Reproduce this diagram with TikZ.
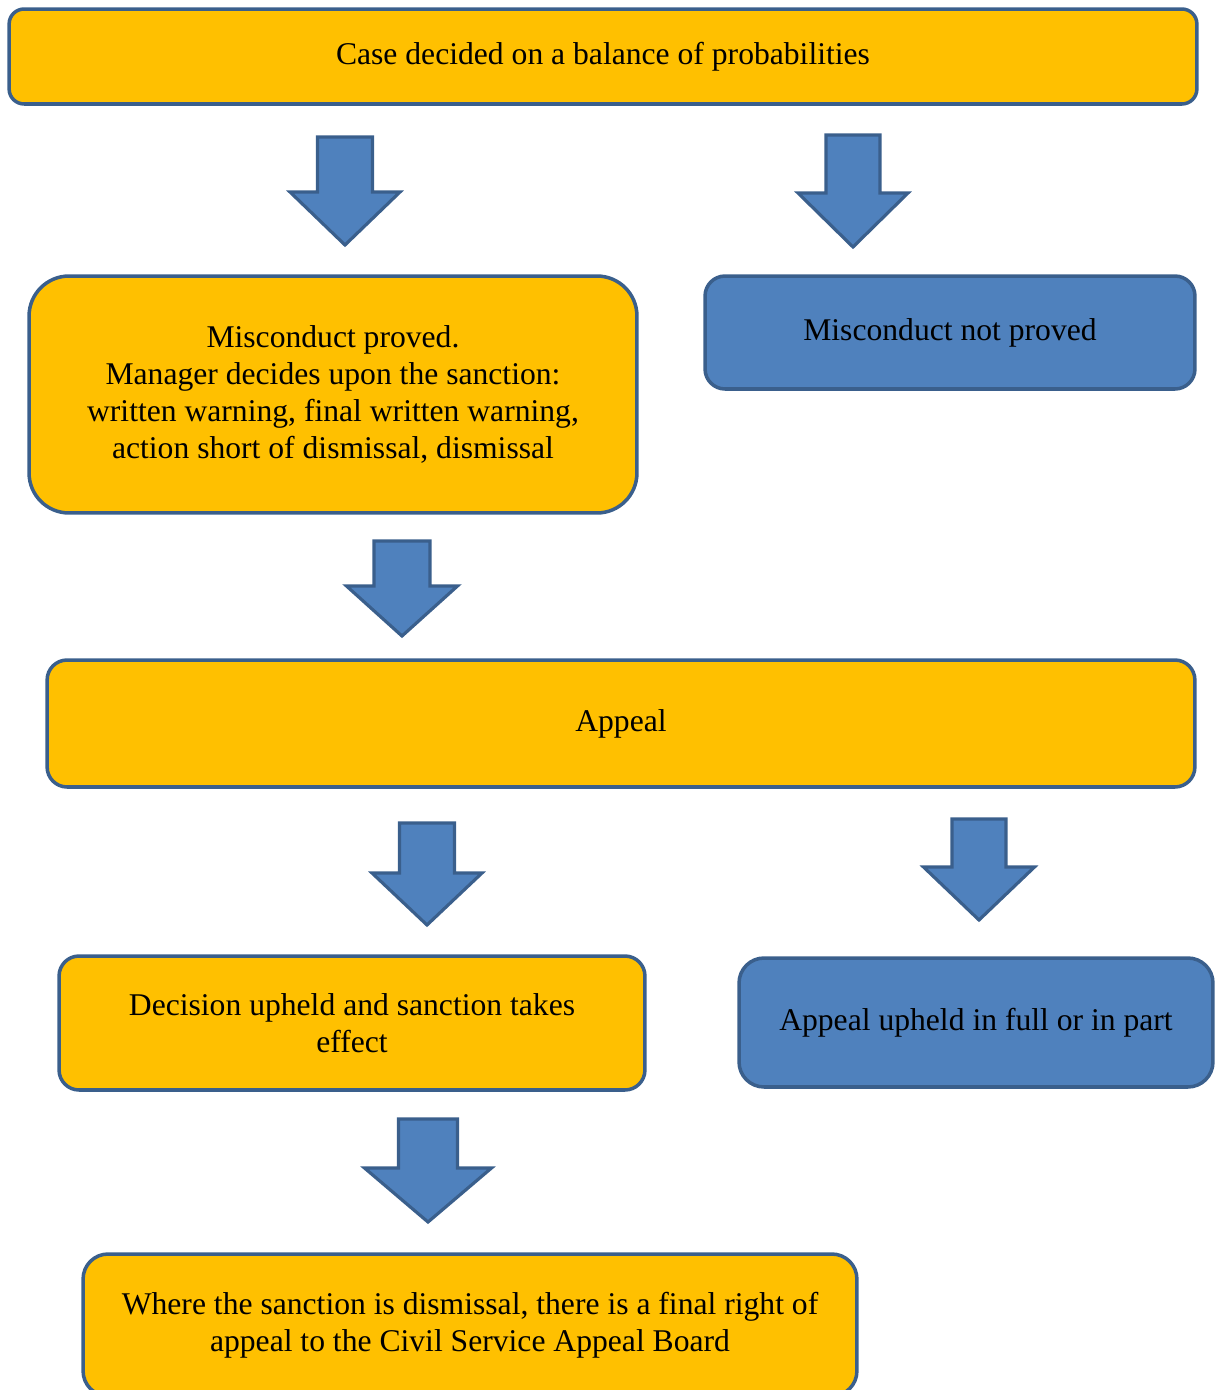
\documentclass[tikz,border=0pt]{standalone}
\usepackage{fontspec}
\setmainfont{Liberation Serif}
\usepackage{tikz}
\definecolor{boxorange}{HTML}{FFC000}
\definecolor{boxblue}{HTML}{4F81BD}
\definecolor{edgeblue}{HTML}{3A5F8C}
\tikzset{
  stagebox/.style={draw=edgeblue, line width=2pt, align=center, inner sep=0pt,
    font=\fontsize{18}{21}\selectfont},
  orangebox/.style={stagebox, fill=boxorange},
  bluebox/.style={stagebox, fill=boxblue},
  blockarrow/.style={draw=edgeblue, fill=boxblue, line width=1.8pt, line join=miter}
}
\begin{document}
\begin{tikzpicture}[x=0.02cm, y=-0.02cm]
\useasboundingbox (0,0) rectangle (1216,1390);
%%%%% Boxes %%%%%
\node[orangebox, rounded corners=0.3cm, minimum width=23.76cm, minimum height=1.9cm] (decided) at (603,56.5) {Case decided on a balance of probabilities};
\node[orangebox, rounded corners=0.8cm, minimum width=12.16cm, minimum height=4.74cm] (proved) at (333,394.5)
  {Misconduct proved.\\ Manager decides upon the sanction:\\ written warning, final written warning,\\ action short of dismissal, dismissal};
\node[bluebox, rounded corners=0.4cm, minimum width=9.8cm, minimum height=2.26cm] (notproved) at (950,332.5) {Misconduct not proved};
\node[orangebox, rounded corners=0.4cm, minimum width=22.96cm, minimum height=2.54cm] (appeal) at (621,723.5) {Appeal};
\node[orangebox, rounded corners=0.4cm, minimum width=11.72cm, minimum height=2.68cm] (upheld) at (352,1023)
  {Decision upheld and sanction takes\\ effect};
\node[bluebox, rounded corners=0.5cm, minimum width=9.48cm, minimum height=2.58cm] (allowed) at (976,1022.5) {Appeal upheld in full or in part};
\node[orangebox, rounded corners=0.5cm, minimum width=15.48cm, minimum height=2.84cm] (board) at (470,1325)
  {Where the sanction is dismissal, there is a final right of\\ appeal to the Civil Service Appeal Board};
%%%%% Arrows %%%%%
\foreach \cx/\sw/\ya/\hy/\hw/\tip in {345/27.5/137/192/55/245, 853/27/135/193/55/247,
  402/28/541/586/55.5/636, 427/27.5/823/873/55/925, 979/27/819/867/55.5/920,
  428/29.5/1119/1168/63.5/1222}{
\draw[blockarrow] (\cx-\sw,\ya)--(\cx+\sw,\ya)--(\cx+\sw,\hy)--(\cx+\hw,\hy)--(\cx,\tip)
  --(\cx-\hw,\hy)--(\cx-\sw,\hy)--cycle;
}
\end{tikzpicture}
\end{document}
